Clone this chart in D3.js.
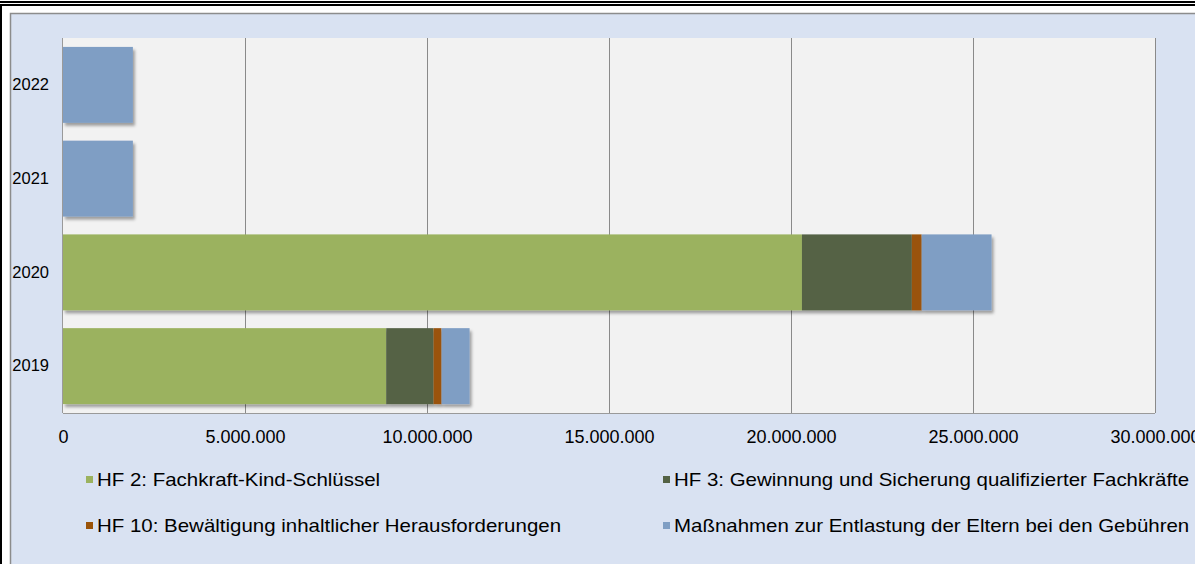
<!DOCTYPE html>
<html>
<head>
<meta charset="utf-8">
<script src="https://cdn.jsdelivr.net/npm/d3@7"></script>
<style>
  html, body { margin: 0; padding: 0; background: #fff; }
  svg { display: block; font-family: "Liberation Sans", Arial, sans-serif; }
</style>
</head>
<body>
<div id="chart"></div>
<script>
// years shown top to bottom
const years = ['2022', '2021', '2020', '2019'];
const seriesNames = [
  'HF 2: Fachkraft-Kind-Schlüssel',
  'HF 3: Gewinnung und Sicherung qualifizierter Fachkräfte',
  'HF 10: Bewältigung inhaltlicher Herausforderungen',
  'Maßnahmen zur Entlastung der Eltern bei den Gebühren'
];
const seriesColors = ['#9bb25f', '#546245', '#9a5309', '#7f9ec4'];
// values per series, in the order of years
const hf2 = [0, 0, 20300000, 8880000];
const hf3 = [0, 0, 3020000, 1300000];
const hf10 = [0, 0, 270000, 220000];
const eltern = [1920000, 1920000, 1920000, 770000];
const xTicks = [0, 5000000, 10000000, 15000000, 20000000, 25000000, 30000000];

const W = 1195, H = 564;
const plot = { left: 63, right: 1155, top: 38, bottom: 413 };

const de = d3.formatLocale({ decimal: ',', thousands: '.', grouping: [3], currency: ['', '€'] });
const fmt = de.format(',d');

const svg = d3.select('#chart').append('svg')
  .attr('width', W).attr('height', H);

const defs = svg.append('defs');
const shadow = defs.append('filter').attr('id', 'shadow')
  .attr('x', '-5%').attr('y', '-5%').attr('width', '120%').attr('height', '125%');
shadow.append('feDropShadow')
  .attr('dx', 2).attr('dy', 3).attr('stdDeviation', 1.6)
  .attr('flood-color', '#000').attr('flood-opacity', 0.35);

// page frame: double rule on top, black line on left
svg.append('rect').attr('x', 0).attr('y', 1).attr('width', W).attr('height', 2).attr('fill', '#000');
svg.append('rect').attr('x', 0).attr('y', 4).attr('width', W).attr('height', 2).attr('fill', '#000');
svg.append('rect').attr('x', 0).attr('y', 4).attr('width', 2).attr('height', H).attr('fill', '#000');

// chart area
svg.append('rect')
  .attr('x', 10.5).attr('y', 13.5).attr('width', W + 10).attr('height', H + 10)
  .attr('fill', '#d9e2f2').attr('stroke', '#8c8c8c').attr('stroke-width', 1.5);

// plot area
svg.append('rect')
  .attr('x', plot.left).attr('y', plot.top)
  .attr('width', plot.right - plot.left).attr('height', plot.bottom - plot.top)
  .attr('fill', '#f2f2f2');

const x = d3.scaleLinear().domain([0, 30000000]).range([plot.left, plot.right]);
const y = d3.scaleBand().domain(years).range([plot.top, plot.bottom]).paddingInner(0.19).paddingOuter(0.095);

// gridlines
svg.append('g')
  .selectAll('line')
  .data(xTicks.slice(1))
  .join('line')
  .attr('x1', d => Math.round(x(d)) + 0.5).attr('x2', d => Math.round(x(d)) + 0.5)
  .attr('y1', plot.top).attr('y2', plot.bottom)
  .attr('stroke', '#8a8a8a').attr('stroke-width', 1);

// stacked bars
const rows = years.map((yr, i) => ({ year: yr, s0: hf2[i], s1: hf3[i], s2: hf10[i], s3: eltern[i] }));
const stack = d3.stack().keys(['s0', 's1', 's2', 's3']);
const layers = stack(rows);

const barG = svg.append('g').attr('filter', 'url(#shadow)');
barG.selectAll('g')
  .data(layers)
  .join('g')
  .attr('fill', (d, i) => seriesColors[i])
  .selectAll('rect')
  .data(d => d.filter(p => p[1] - p[0] > 0))
  .join('rect')
  .attr('x', d => x(d[0]))
  .attr('y', d => y(d.data.year))
  .attr('width', d => x(d[1]) - x(d[0]))
  .attr('height', y.bandwidth());

// axis lines
svg.append('line')
  .attr('x1', plot.left).attr('x2', plot.right)
  .attr('y1', plot.bottom + 0.5).attr('y2', plot.bottom + 0.5)
  .attr('stroke', '#9a9a9a');
svg.append('line')
  .attr('x1', plot.left - 0.5).attr('x2', plot.left - 0.5)
  .attr('y1', plot.top).attr('y2', plot.bottom)
  .attr('stroke', '#9a9a9a');

// x tick labels (the last one runs off the right edge, as in the original)
const xAxis = svg.append('g')
  .attr('transform', `translate(0,${plot.bottom})`)
  .call(d3.axisBottom(x).tickValues(xTicks).tickFormat(fmt).tickSize(0).tickPadding(17));
xAxis.select('.domain').remove();
xAxis.selectAll('text')
  .attr('font-family', '"Liberation Sans", Arial, sans-serif')
  .attr('font-size', 18).attr('fill', '#000');

// y labels
const yAxis = svg.append('g')
  .attr('transform', `translate(${plot.left},0)`)
  .call(d3.axisLeft(y).tickSize(0).tickPadding(14));
yAxis.select('.domain').remove();
yAxis.selectAll('text')
  .attr('font-family', '"Liberation Sans", Arial, sans-serif')
  .attr('font-size', 16.5).attr('fill', '#000');

// legend
const legendPos = [
  { x: 86, y: 480 }, { x: 663, y: 480 },
  { x: 86, y: 526 }, { x: 663, y: 526 }
];
const legend = svg.append('g')
  .selectAll('g')
  .data(seriesNames)
  .join('g')
  .attr('transform', (d, i) => `translate(${legendPos[i].x},${legendPos[i].y})`);
legend.append('rect')
  .attr('x', 0).attr('y', -4).attr('width', 7).attr('height', 7)
  .attr('fill', (d, i) => seriesColors[i]);
legend.append('text')
  .attr('transform', 'translate(11,0) scale(1.17,1)')
  .attr('dy', '0.35em')
  .attr('font-size', 17.5).attr('fill', '#000')
  .text(d => d);
</script>
</body>
</html>
